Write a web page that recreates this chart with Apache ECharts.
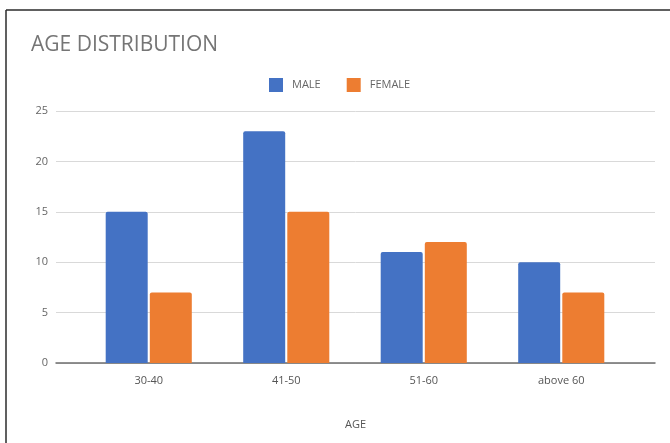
<!DOCTYPE html>
<html>
<head>
<meta charset="utf-8">
<script src="https://cdn.jsdelivr.net/npm/echarts/dist/echarts.min.js"></script>
<style>
  html, body { margin: 0; padding: 0; background: #fff; }
  #chart { width: 670px; height: 443px; }
</style>
</head>
<body>
<div id="chart"></div>
<script>
// Age groups and head counts per gender
const categories = ['30-40', '41-50', '51-60', 'above 60'];
const maleValues = [15, 23, 11, 10];
const femaleValues = [7, 15, 12, 7];
const yTicks = [0, 5, 10, 15, 20, 25];
const seriesNames = ['MALE', 'FEMALE'];
const titleText = 'AGE DISTRIBUTION';
const xAxisTitle = 'AGE';

const yMin = yTicks[0];
const yMax = yTicks[yTicks.length - 1];
const yStep = yTicks[1] - yTicks[0];

const FONT = '"Open Sans", "Noto Sans", sans-serif';
const chart = echarts.init(document.getElementById('chart'), null, { renderer: 'canvas' });

chart.setOption({
  animation: false,
  backgroundColor: '#fff',
  textStyle: { fontFamily: FONT },
  title: {
    text: titleText,
    left: 26,
    top: 30,
    textStyle: { fontSize: 21, fontWeight: 'normal', color: '#757575', fontFamily: FONT }
  },
  legend: {
    data: seriesNames,
    left: 264,
    top: 73,
    itemWidth: 14,
    itemHeight: 14,
    itemGap: 26,
    icon: 'rect',
    textStyle: { fontSize: 11, color: '#666', fontFamily: FONT, padding: [0, 0, 0, 4] }
  },
  grid: [
    // frame: gridlines, value labels, baseline
    { left: 56, right: 15, top: 111, bottom: 80 },
    // bars
    { left: 80, right: 40, top: 111, bottom: 80 }
  ],
  xAxis: [
    {
      gridIndex: 0, type: 'value', min: 0, max: 1,
      axisLine: { show: true, lineStyle: { color: '#6e6e6e', width: 1.5 } },
      axisTick: { show: false }, axisLabel: { show: false }, splitLine: { show: false },
      name: xAxisTitle, nameLocation: 'middle', nameGap: 56,
      nameTextStyle: { fontSize: 11, color: '#555', fontFamily: FONT }
    },
    {
      gridIndex: 1, type: 'category', data: categories,
      axisLine: { show: false }, axisTick: { show: false },
      axisLabel: { fontSize: 11, color: '#555', margin: 12, fontFamily: FONT }
    }
  ],
  yAxis: [
    {
      gridIndex: 0, type: 'value', min: yMin, max: yMax, interval: yStep,
      axisLine: { show: false }, axisTick: { show: false },
      axisLabel: { fontSize: 11, color: '#666', margin: 8, fontFamily: FONT },
      splitLine: { lineStyle: { color: '#d9d9d9', width: 1 } }
    },
    {
      gridIndex: 1, type: 'value', min: yMin, max: yMax, interval: yStep, show: false,
      splitLine: { show: false }
    }
  ],
  series: [
    {
      name: seriesNames[0], type: 'bar', xAxisIndex: 1, yAxisIndex: 1,
      data: maleValues, barWidth: 42, barGap: '5%',
      itemStyle: { color: '#4472c4', borderRadius: [2, 2, 0, 0] }
    },
    {
      name: seriesNames[1], type: 'bar', xAxisIndex: 1, yAxisIndex: 1,
      data: femaleValues, barWidth: 42, barGap: '5%',
      itemStyle: { color: '#ed7d31', borderRadius: [2, 2, 0, 0] }
    }
  ],
  graphic: [
    { type: 'line', shape: { x1: 6, y1: 10, x2: 670, y2: 10 }, style: { stroke: '#2b2b2b', lineWidth: 1.5 }, silent: true },
    { type: 'line', shape: { x1: 6, y1: 10, x2: 6, y2: 443 }, style: { stroke: '#2b2b2b', lineWidth: 1.5 }, silent: true }
  ]
});
</script>
</body>
</html>
